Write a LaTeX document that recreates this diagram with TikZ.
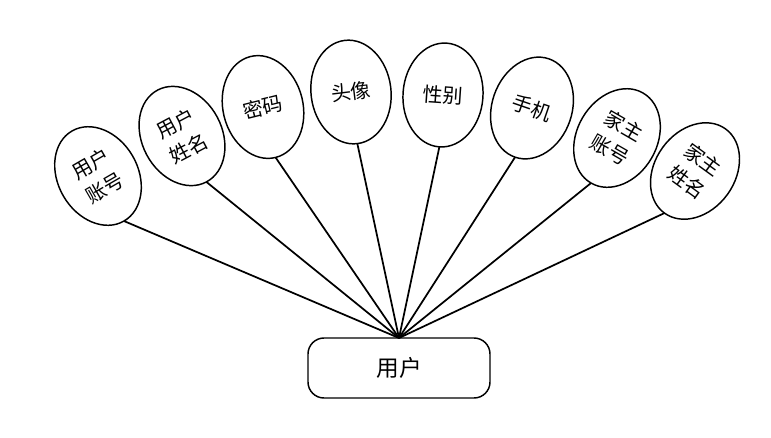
\documentclass[tikz,border=0pt]{standalone}
\usepackage{fontspec}
\newfontfamily\cjk{Noto Sans CJK SC}
\usetikzlibrary{shapes.geometric}
\begin{document}
\begin{tikzpicture}[x=0.75pt,y=-0.75pt,
  attr/.style={ellipse,draw,line width=1.1pt,inner sep=0pt,outer sep=0pt,
    minimum width=60pt,minimum height=78pt,align=center,
    font=\cjk\fontsize{15pt}{21pt}\selectfont},
  ent/.style={rectangle,rounded corners=12pt,draw,line width=1.1pt,
    minimum width=136.5pt,minimum height=45pt,outer sep=0pt,
    font=\cjk\fontsize{17pt}{20pt}\selectfont},
  link/.style={line width=1.3pt}]
\useasboundingbox (0,0) rectangle (771,437);
\node[ent] (u) at (399,368) {用户};
\node[attr,rotate=30] (e1) at (98,176) {用户\\账号};
\node[attr,rotate=28] (e2) at (182,136) {用户\\姓名};
\node[attr,rotate=14] (e3) at (263,107) {密码};
\node[attr,rotate=7] (e4) at (351,92) {头像};
\node[attr,rotate=-4] (e5) at (443,95) {性别};
\node[attr,rotate=-19] (e6) at (532,108) {手机};
\node[attr,rotate=-30] (e7) at (617,138) {家主\\账号};
\node[attr,rotate=-36] (e8) at (695,171) {家主\\姓名};
\foreach \e in {e1,e2,e3,e4,e5,e6,e7,e8}
  \draw[link] (\e.south) -- (u.north);
\end{tikzpicture}
\end{document}
